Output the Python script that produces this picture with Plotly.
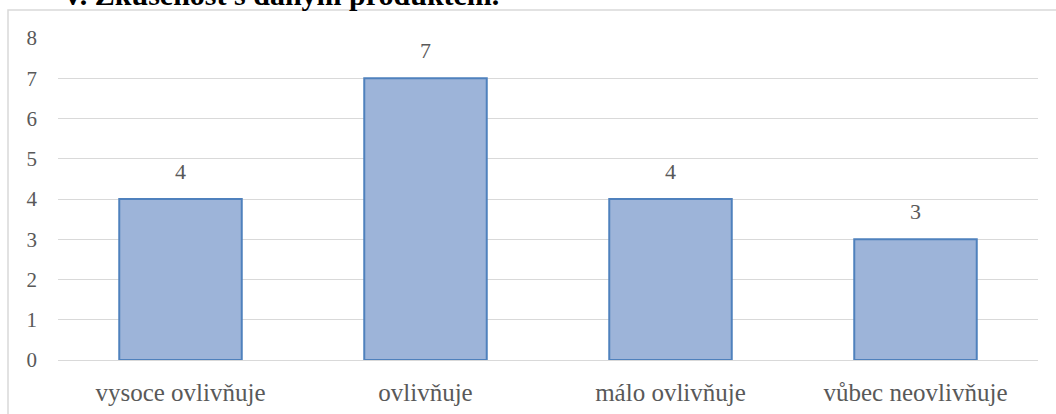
import plotly.graph_objects as go

# Survey answers: how much experience with the product influences the decision
categories = ["vysoce ovlivňuje", "ovlivňuje", "málo ovlivňuje", "vůbec neovlivňuje"]
counts = [4, 7, 4, 3]
y_ticks = [0, 1, 2, 3, 4, 5, 6, 7, 8]
title_text = "V. Zkušenost s daným produktem."

GREY_TEXT = "#595959"
GRID = "#d9d9d9"
SERIF = "Liberation Serif, Times New Roman, serif"

W, H = 1056, 414
ML, MR, MT, MB = 58, 18, 38, 54
pw, ph = W - ML - MR, H - MT - MB

fig = go.Figure()
fig.add_trace(go.Bar(
    x=categories,
    y=counts,
    marker=dict(color="#9db4d9", line=dict(color="#4f81bd", width=2)),
    hoverinfo="x+y",
))

# value labels above each bar
for cat, val in zip(categories, counts):
    fig.add_annotation(
        x=cat, y=val, text=str(val), showarrow=False,
        xref="x", yref="y", yanchor="bottom", yshift=13,
        font=dict(family=SERIF, size=22, color=GREY_TEXT),
    )

# section heading, partly above the visible page
fig.add_annotation(
    x=(60 - ML) / pw, y=(H - MB - 13) / ph, xref="paper", yref="paper",
    text=title_text, showarrow=False, xanchor="left", yanchor="bottom",
    font=dict(family=SERIF, size=30, color="black", weight="bold"),
)

# chart frame
fig.add_shape(
    type="rect", xref="paper", yref="paper",
    x0=(8 - ML) / pw, x1=1.2, y0=-0.5, y1=(H - MB - 10) / ph,
    line=dict(color=GRID, width=1.5), layer="below",
)

fig.update_layout(
    width=W, height=H,
    margin=dict(l=ML, r=MR, t=MT, b=MB),
    paper_bgcolor="white", plot_bgcolor="white",
    bargap=0.5, showlegend=False,
    xaxis=dict(
        range=[-0.5, 3.5], showgrid=False, zeroline=False, showline=False,
        ticks="", ticklabelstandoff=15, automargin=False,
        tickfont=dict(family=SERIF, size=25, color=GREY_TEXT),
    ),
    yaxis=dict(
        range=[0, 8], tickvals=y_ticks, showgrid=True, gridcolor=GRID, gridwidth=1,
        zeroline=True, zerolinecolor=GRID, zerolinewidth=1, showline=False,
        ticks="", ticklabelstandoff=20, automargin=False,
        tickfont=dict(family=SERIF, size=21, color=GREY_TEXT),
    ),
)

fig.write_html("out.html")
